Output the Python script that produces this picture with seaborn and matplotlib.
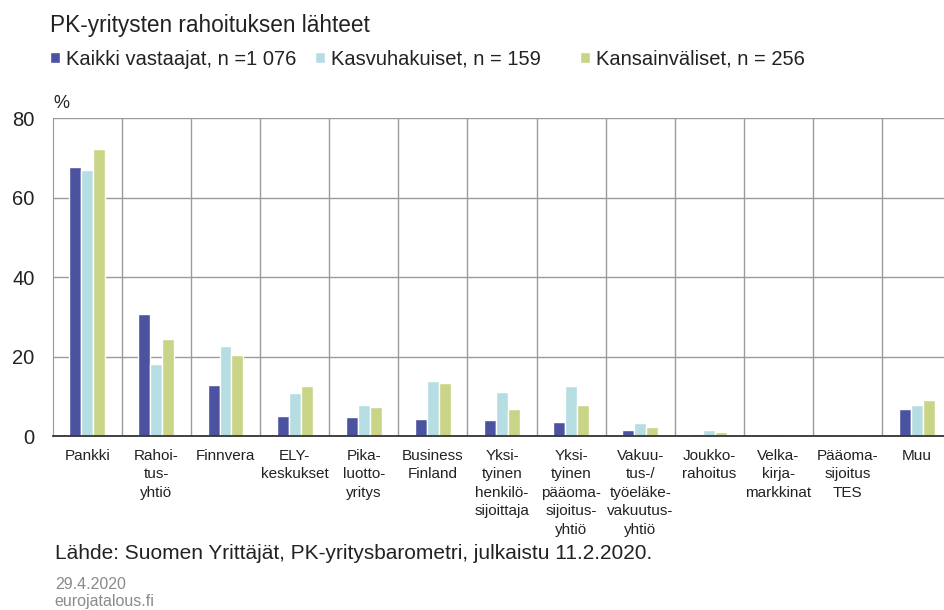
import numpy as np
import pandas as pd
import matplotlib
matplotlib.use("Agg")
import matplotlib.pyplot as plt
import seaborn as sns

# data
lahteet = ["Pankki", "Rahoi-\ntus-\nyhtiö", "Finnvera", "ELY-\nkeskukset",
           "Pika-\nluotto-\nyritys", "Business\nFinland",
           "Yksi-\ntyinen\nhenkilö-\nsijoittaja",
           "Yksi-\ntyinen\npääoma-\nsijoitus-\nyhtiö",
           "Vakuu-\ntus-/\ntyöeläke-\nvakuutus-\nyhtiö",
           "Joukko-\nrahoitus", "Velka-\nkirja-\nmarkkinat",
           "Pääoma-\nsijoitus\nTES", "Muu"]
sarjat = ["Kaikki vastaajat, n =1 076", "Kasvuhakuiset, n = 159",
          "Kansainväliset, n = 256"]
kaikki = [67.6, 30.8, 12.8, 5.0, 4.9, 4.4, 4.0, 3.5, 1.5, 0.5, 0.3, 0.0, 6.8]
kasvu = [67.0, 18.2, 22.7, 10.8, 7.9, 13.9, 11.2, 12.7, 3.4, 1.4, 0.4, 0.4, 7.7]
kansainv = [72.3, 24.5, 20.5, 12.6, 7.4, 13.4, 6.7, 7.9, 2.3, 0.9, 0.3, 0.2, 9.1]
varit = ["#4b53a0", "#b6dde2", "#c9d487"]

df = pd.DataFrame({"lahde": lahteet * 3,
                   "sarja": np.repeat(sarjat, len(lahteet)),
                   "arvo": kaikki + kasvu + kansainv})

sns.set_style("white")
plt.rcParams["font.family"] = ["Liberation Sans", "DejaVu Sans"]

fig = plt.figure(figsize=(9.44, 6.10), dpi=100)
ax = fig.add_axes([0.0558, 0.2852, 0.952, 0.5213])

sns.barplot(data=df, x="lahde", y="arvo", hue="sarja", palette=varit,
            width=0.52, gap=0, saturation=1, legend=True, ax=ax)

ax.set_xlim(-0.5, len(lahteet) - 0.5)
ax.set_ylim(0, 80)
ax.set_yticks([0, 20, 40, 60, 80])
ax.set_xticks(np.arange(len(lahteet) - 1) + 0.5, minor=True)
ax.grid(True, axis="y", which="major", color="#9a9a9a", lw=1)
ax.grid(True, axis="x", which="minor", color="#9a9a9a", lw=1)
ax.set_axisbelow(True)
ax.set_xlabel("")
ax.set_ylabel("")
for s in ["top", "right"]:
    ax.spines[s].set_visible(False)
ax.spines["left"].set_color("#9a9a9a")
ax.spines["bottom"].set_color("#333333")
ax.spines["bottom"].set_linewidth(1.3)

ax.tick_params(axis="y", length=0, pad=13, labelsize=14.5, labelcolor="#222222")
ax.tick_params(axis="x", which="both", length=0, pad=9)
ax.set_xticks(range(len(lahteet)))
ax.set_xticklabels(lahteet, fontsize=11, linespacing=1.42, va="top",
                   color="#222222")

# legend: one entry per column, like the reference
handles, labels = ax.get_legend_handles_labels()
ax.get_legend().remove()
for h, lab, x in zip(handles, labels, [0.053, 0.334, 0.614]):
    fig.legend([h], [lab], loc="center left", bbox_to_anchor=(x, 0.903),
               frameon=False, fontsize=14.5, handlelength=0.5,
               handleheight=0.5, handletextpad=0.3, borderaxespad=0,
               borderpad=0, labelcolor="#222222")

fig.text(0.053, 0.958, "PK-yritysten rahoituksen lähteet", fontsize=16.3,
         color="#222222", va="center")
fig.text(0.0565, 0.83, "%", fontsize=13, color="#222222", va="center")
fig.text(0.058, 0.093, "Lähde: Suomen Yrittäjät, PK-yritysbarometri, julkaistu 11.2.2020.",
         fontsize=15, color="#222222", va="center")
fig.text(0.058, 0.041, "29.4.2020", fontsize=11.5, color="#8a8a8a", va="center")
fig.text(0.058, 0.014, "eurojatalous.fi", fontsize=11.5, color="#8a8a8a", va="center")

fig.savefig("out.png", dpi=100)
